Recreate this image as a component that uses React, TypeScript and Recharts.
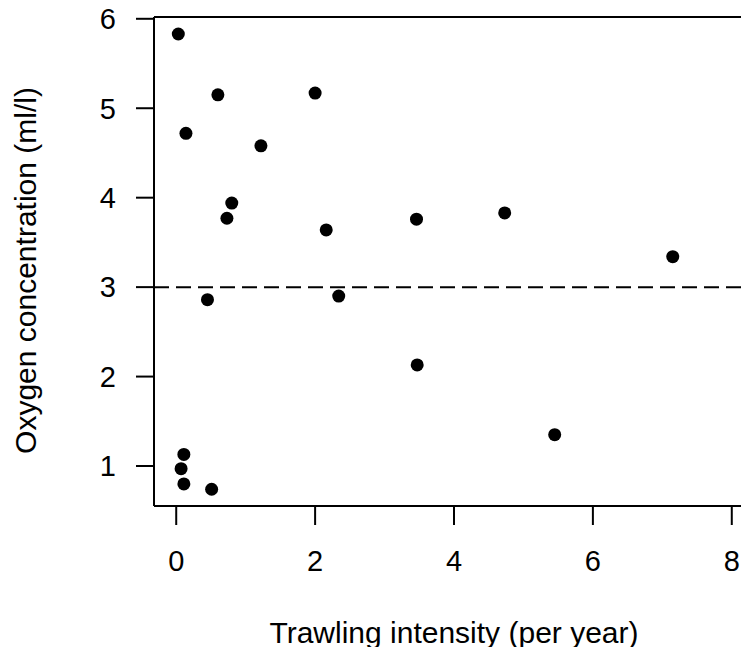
import { ScatterChart, Scatter, XAxis, YAxis, ReferenceLine } from "recharts";

// trawling intensity (per year) and oxygen concentration (ml/l) per site
const intensity = [0.03, 0.14, 0.6, 2.0, 1.22, 0.8, 0.73, 2.16, 3.46, 4.73, 7.15, 0.45, 2.34, 3.47, 5.45, 0.11, 0.07, 0.11, 0.51];
const oxygen = [5.83, 4.72, 5.15, 5.17, 4.58, 3.94, 3.77, 3.64, 3.76, 3.83, 3.34, 2.86, 2.9, 2.13, 1.35, 1.13, 0.97, 0.8, 0.74];

const xTicks = [0, 2, 4, 6, 8];
const yTicks = [1, 2, 3, 4, 5, 6];
const threshold = 3;

const data = intensity.map((x, i) => ({ x, y: oxygen[i] }));

const FONT = "'Liberation Sans', Arial, sans-serif";
const line = { stroke: "#000", strokeWidth: 2 };
const tickStyle = { fill: "#000", fontSize: 29, fontFamily: FONT };

const Dot = (props: any) => <circle cx={props.cx} cy={props.cy} r={6.5} fill="#000" />;

const XTitle = ({ viewBox }: any) => (
    <text x={viewBox.x + viewBox.width / 2} y={viewBox.y + 137} textAnchor="middle"
          fill="#000" fontSize={30} fontFamily={FONT}>
        Trawling intensity (per year)
    </text>
);

const YTitle = ({ viewBox }: any) => {
    const cx = viewBox.x + 25;
    const cy = viewBox.y + viewBox.height / 2 + 9;
    return (
        <text x={cx} y={cy} transform={`rotate(-90, ${cx}, ${cy})`} textAnchor="middle"
              dominantBaseline="central" fill="#000" fontSize={30} fontFamily={FONT}>
            Oxygen concentration (ml/l)
        </text>
    );
};

const App = () => {
    return (
        <div style={{ margin: -8, width: 749, height: 655, overflow: "hidden", background: "#fff" }}>
            <ScatterChart width={760} height={655} margin={{ top: 17, right: 6, bottom: 0, left: 0 }}>
                <XAxis type="number" dataKey="x" domain={[-0.32, 8.32]} ticks={xTicks} allowDataOverflow
                       height={149} tickSize={19} tickMargin={25} axisLine={line} tickLine={line}
                       tick={tickStyle} interval={0} label={{ content: XTitle }} />
                <YAxis type="number" dataKey="y" domain={[0.553, 6.02]} ticks={yTicks} allowDataOverflow
                       width={154} tickSize={18} tickMargin={20} axisLine={line} tickLine={line}
                       tick={tickStyle} interval={0} label={{ content: YTitle }} />
                <ReferenceLine y={6.02} stroke="#000" strokeWidth={2} />
                <ReferenceLine y={threshold} stroke="#000" strokeWidth={2} strokeDasharray="15 7" />
                <Scatter data={data} shape={Dot} isAnimationActive={false} />
            </ScatterChart>
        </div>
    );
};

export default App;
